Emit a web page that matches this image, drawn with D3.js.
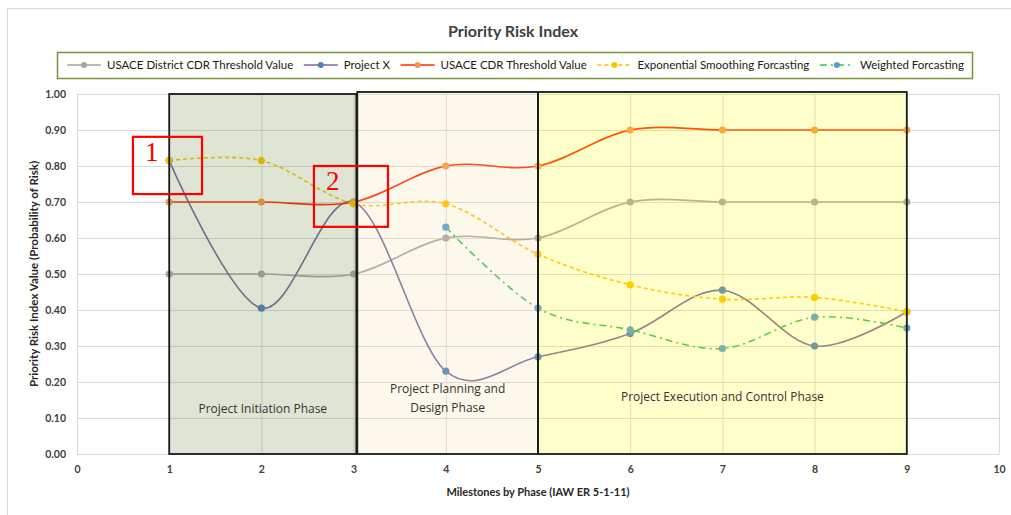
<!DOCTYPE html>
<html>
<head>
<meta charset="utf-8">
<script src="https://cdn.jsdelivr.net/npm/d3@7"></script>
<style>
  body { margin: 0; background: #fff; }
</style>
</head>
<body>
<div id="chart"></div>
<script>
// chart values
var milestones = [1, 2, 3, 4, 5, 6, 7, 8, 9];
var districtThreshold = [0.50, 0.50, 0.50, 0.60, 0.60, 0.70, 0.70, 0.70, 0.70];
var projectX = [0.815, 0.405, 0.70, 0.23, 0.27, 0.335, 0.455, 0.30, 0.395];
var cdrThreshold = [0.70, 0.70, 0.70, 0.80, 0.80, 0.90, 0.90, 0.90, 0.90];
var expSmoothing = [0.815, 0.815, 0.695, 0.695, 0.555, 0.47, 0.43, 0.435, 0.395];
var weighted = [null, null, null, 0.63, 0.405, 0.345, 0.293, 0.38, 0.35];

var xTicks = d3.range(0, 11);
var yTicks = d3.range(0, 11).map(function (d) { return d / 10; });

var phaseNames = [["Project Initiation Phase"], ["Project Planning and", "Design Phase"], ["Project Execution and Control Phase"]];
var phaseStart = [1, 3.04, 5];
var phaseEnd = [3.03, 5, 9];

var seriesNames = ["USACE District CDR Threshold Value", "Project X", "USACE CDR Threshold Value",
                   "Exponential Smoothing Forcasting", "Weighted Forcasting"];
var seriesValues = [districtThreshold, projectX, cdrThreshold, expSmoothing, weighted];

// styles
var lineColors = ["#a5a5a5", "#8064a2", "#ff2a00", "#ffc000", "#33c257"];
var markerColors = ["#a5a5a5", "#4f81bd", "#f79646", "#ffc000", "#5b9bd5"];
var dashes = [null, null, null, "4,3", "7,4,2,4"];
var phaseFills = ["#5a7f2a", "#f5dca0", "#ffff00"];
var phaseOpacity = [0.2, 0.2, 0.2];
var sans = "Lato, 'Open Sans', sans-serif";

var W = 1011, H = 515;
var margin = {left: 77, right: 12, top: 94, bottom: 61};

var svg = d3.select("#chart").append("svg")
    .attr("width", W)
    .attr("height", H)
    .style("font-family", sans);

// outer chart frame
svg.append("rect")
    .attr("x", 7.5).attr("y", 8.5)
    .attr("width", W + 20).attr("height", H + 20)
    .attr("fill", "none")
    .attr("stroke", "#d9d9d9");

var x = d3.scaleLinear().domain([0, 10]).range([margin.left, W - margin.right]);
var y = d3.scaleLinear().domain([0, 1]).range([H - margin.bottom, margin.top]);

// title
svg.append("text")
    .attr("x", 513).attr("y", 37)
    .attr("text-anchor", "middle")
    .attr("font-size", 16).attr("font-weight", "bold")
    .attr("fill", "#404040")
    .text("Priority Risk Index");

// axes and gridlines
var yAxis = svg.append("g")
    .attr("transform", "translate(" + x(0) + ",0)")
    .call(d3.axisLeft(y).tickValues(yTicks).tickFormat(d3.format(".2f"))
        .tickSizeInner(-(x(10) - x(0))).tickSizeOuter(0).tickPadding(11));

var xAxis = svg.append("g")
    .attr("transform", "translate(0," + y(0) + ")")
    .call(d3.axisBottom(x).tickValues(xTicks).tickFormat(d3.format("d"))
        .tickSizeInner(-(y(0) - y(1))).tickSizeOuter(0).tickPadding(12));

[xAxis, yAxis].forEach(function (g) {
    g.attr("font-family", null);
    g.select(".domain").remove();
    g.selectAll(".tick line").attr("stroke", "#d9d9d9");
    g.selectAll(".tick text")
        .style("font-family", sans)
        .attr("font-size", 10.5).attr("font-weight", "bold")
        .attr("fill", "#404040");
});

svg.append("text")
    .attr("transform", "translate(38," + ((y(0) + y(1)) / 2) + ") rotate(-90)")
    .attr("text-anchor", "middle")
    .attr("font-size", 11.5).attr("font-weight", "bold")
    .attr("fill", "#262626")
    .text("Priority Risk Index Value (Probability of Risk)");

svg.append("text")
    .attr("x", 538).attr("y", 496)
    .attr("text-anchor", "middle")
    .attr("font-size", 11).attr("font-weight", "bold")
    .attr("fill", "#262626")
    .text("Milestones by Phase (IAW ER 5-1-11)");

// series lines and markers
var line = d3.line()
    .defined(function (d) { return d.v != null; })
    .x(function (d) { return x(d.m); })
    .y(function (d) { return y(d.v); })
    .curve(d3.curveCardinal.tension(0));

seriesValues.forEach(function (vals, i) {
    var pts = milestones.map(function (m, j) { return {m: m, v: vals[j]}; });
    svg.append("path")
        .datum(pts)
        .attr("d", line)
        .attr("fill", "none")
        .attr("stroke", lineColors[i])
        .attr("stroke-width", 1.6)
        .attr("stroke-dasharray", dashes[i]);
    svg.selectAll(".mk" + i)
        .data(pts.filter(function (d) { return d.v != null; }))
        .enter().append("circle")
        .attr("class", "mk" + i)
        .attr("cx", function (d) { return x(d.m); })
        .attr("cy", function (d) { return y(d.v); })
        .attr("r", 3.6)
        .attr("fill", markerColors[i]);
});

// phase boxes laid over the chart
var phases = svg.selectAll(".phase")
    .data(phaseNames)
    .enter().append("g")
    .attr("class", "phase");

phases.append("rect")
    .attr("x", function (d, i) { return x(phaseStart[i]); })
    .attr("y", function (d, i) { return y(1) - (i > 0 ? 2 : 0); })
    .attr("width", function (d, i) { return x(phaseEnd[i]) - x(phaseStart[i]); })
    .attr("height", function (d, i) { return y(0) - y(1) + (i > 0 ? 2 : 0); })
    .attr("fill", function (d, i) { return phaseFills[i]; })
    .attr("fill-opacity", function (d, i) { return phaseOpacity[i]; })
    .attr("stroke", "#1a1a1a")
    .attr("stroke-width", 1.8);

var labelY = [413, 393, 401];
phases.append("text")
    .attr("text-anchor", "middle")
    .style("font-family", "'Open Sans', sans-serif")
    .attr("font-size", 12)
    .attr("fill", "#333")
    .each(function (d, i) {
        var t = d3.select(this);
        d.forEach(function (s, k) {
            t.append("tspan")
                .attr("x", x((phaseStart[i] + phaseEnd[i]) / 2))
                .attr("y", labelY[i] + k * 19)
                .text(s);
        });
    });

// legend
var legend = svg.append("g");
legend.append("rect")
    .attr("x", 57.5).attr("y", 52.5)
    .attr("width", 915).attr("height", 26)
    .attr("fill", "#fff")
    .attr("stroke", "#77933c")
    .attr("stroke-width", 1.5);

var items = legend.selectAll(".item")
    .data(seriesNames)
    .enter().append("g")
    .attr("class", "item");

items.append("text")
    .attr("font-size", 11.5)
    .attr("fill", "#1a1a1a")
    .attr("dy", "0.35em")
    .text(function (d) { return d; });

var widths = [];
items.select("text").each(function () { widths.push(this.getComputedTextLength()); });
var sampleLen = 34, sampleGap = 6;
var used = d3.sum(widths) + seriesNames.length * (sampleLen + sampleGap);
var gap = (915 - 18 - used) / (seriesNames.length - 1);
var cursor = 67;
items.each(function (d, i) {
    var g = d3.select(this);
    g.attr("transform", "translate(" + cursor + ",65)");
    g.append("line")
        .attr("x1", 0).attr("x2", sampleLen)
        .attr("stroke", lineColors[i])
        .attr("stroke-width", 1.6)
        .attr("stroke-dasharray", dashes[i]);
    g.append("circle")
        .attr("cx", sampleLen / 2).attr("r", 3)
        .attr("fill", markerColors[i]);
    g.select("text").attr("x", sampleLen + sampleGap);
    cursor += sampleLen + sampleGap + widths[i] + gap;
});

// numbered red call-out boxes
var callouts = ["1", "2"];
var calloutX0 = [0.607, 2.57], calloutX1 = [1.356, 3.373];
var calloutY0 = [0.881, 0.80], calloutY1 = [0.722, 0.631];

callouts.forEach(function (c, i) {
    svg.append("rect")
        .attr("x", x(calloutX0[i])).attr("y", y(calloutY0[i]))
        .attr("width", x(calloutX1[i]) - x(calloutX0[i]))
        .attr("height", y(calloutY1[i]) - y(calloutY0[i]))
        .attr("fill", "none")
        .attr("stroke", "#ff0000")
        .attr("stroke-width", 2.2);
    svg.append("text")
        .attr("x", x(calloutX0[i]) + 12)
        .attr("y", y(calloutY0[i]) + 24)
        .style("font-family", "'Liberation Serif', 'DejaVu Serif', serif")
        .attr("font-size", 27)
        .attr("fill", "#ff0000")
        .text(c);
});
</script>
</body>
</html>
